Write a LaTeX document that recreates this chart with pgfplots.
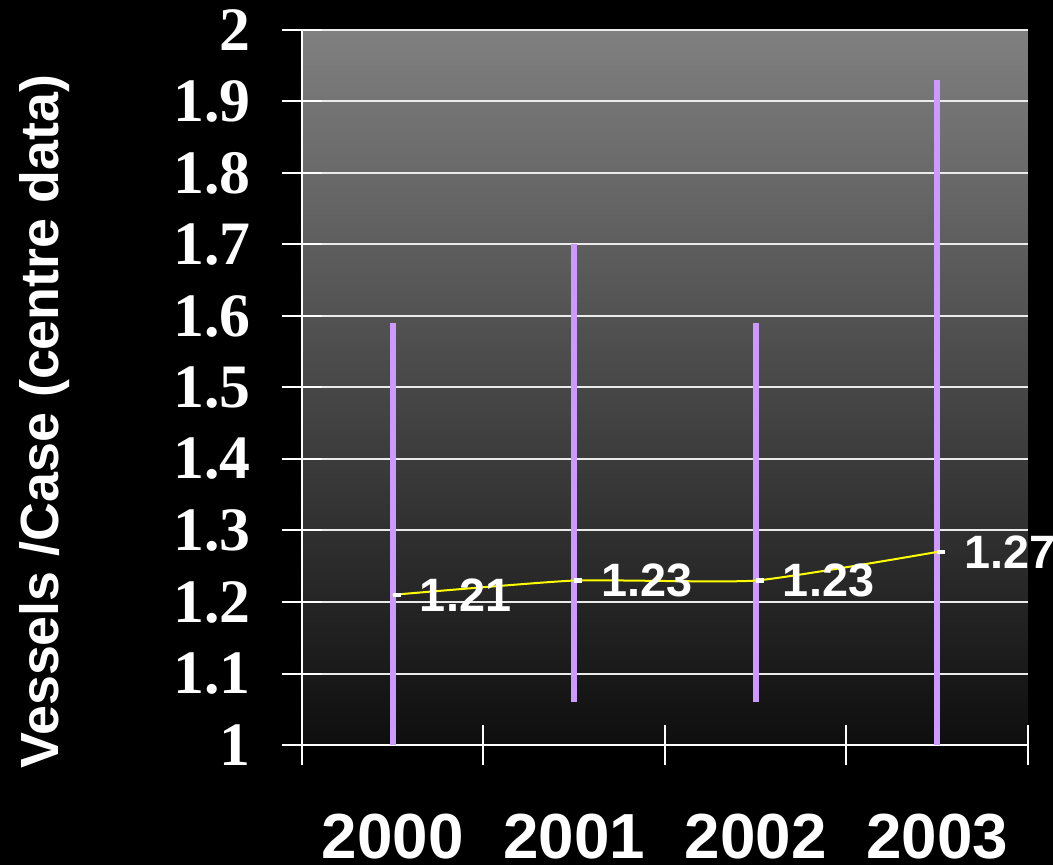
\documentclass[border=0pt]{standalone}
\usepackage{pgfplots}
\pgfplotsset{compat=1.18}
\usepackage{fontspec}
\setmainfont{Liberation Serif}
\newfontfamily\arialf{Liberation Sans}
\definecolor{bartop}{RGB}{128,128,128}
\definecolor{barbot}{RGB}{14,14,14}
\definecolor{lav}{RGB}{204,153,255}
\definecolor{yel}{RGB}{255,255,0}
\definecolor{gridc}{RGB}{235,235,235}
\begin{document}
\begin{tikzpicture}
\fill[black] (-302bp,-120bp) rectangle (751bp,745bp);
\begin{axis}[
  at={(0,0)}, anchor=south west,
  scale only axis, width=726bp, height=715bp,
  xmin=0, xmax=4, ymin=1, ymax=2,
  clip=false,
  axis background/.style={top color=bartop, bottom color=barbot},
  axis x line*=bottom, axis y line*=left,
  axis line style={white, line width=2bp, -},
  xtick={0,1,2,3,4}, xticklabels={},
  extra x ticks={0.5,1.5,2.5,3.5},
  extra x tick labels={2000,2001,2002,2003},
  extra x tick style={major tick length=0pt, grid=none,
    xticklabel style={anchor=base, inner sep=0pt, yshift=-113bp}},
  ytick={1,1.1,1.2,1.3,1.4,1.5,1.6,1.7,1.8,1.9,2},
  tick align=center, major tick length=40bp,
  tick style={white, line width=2bp},
  ymajorgrids, grid style={gridc, line width=2bp},
  x tick label style={font=\arialf\bfseries\fontsize{64}{64}\selectfont, text=white},
  y tick label style={font=\bfseries\fontsize{62}{62}\selectfont, text=white, anchor=east, inner sep=0pt, xshift=-31bp},
  /pgf/number format/assume math mode=true,
  ylabel={Vessels /Case (centre data)},
  ylabel style={font=\arialf\bfseries\fontsize{54}{54}\selectfont, text=white,
    at={(axis description cs:-0.354,0.452)}, anchor=center, rotate=0},
]
% high-low lines
\addplot[lav, line width=6.3bp, line cap=butt] coordinates {(0.5,1.00) (0.5,1.59)};
\addplot[lav, line width=6.3bp, line cap=butt] coordinates {(1.5,1.06) (1.5,1.70)};
\addplot[lav, line width=6.3bp, line cap=butt] coordinates {(2.5,1.06) (2.5,1.59)};
\addplot[lav, line width=6.3bp, line cap=butt] coordinates {(3.5,1.00) (3.5,1.93)};
% mean line
\addplot[yel, line width=2bp, smooth, tension=0.3] coordinates {(0.5,1.21) (1.5,1.23) (2.5,1.23) (3.5,1.27)};
% close marks with labels
\addplot[draw=none, mark=-, mark size=4bp,
  mark options={white, line width=4.5bp, xshift=4bp},
  nodes near coords={\pgfmathprintnumber[fixed,precision=2,fixed zerofill,assume math mode=true]{\pgfplotspointmeta}},
  every node near coord/.style={anchor=west, inner sep=0pt, xshift=21bp,
    font=\arialf\bfseries\fontsize{47}{47}\selectfont, text=white}]
  coordinates {(0.5,1.21) (1.5,1.23) (2.5,1.23) (3.5,1.27)};
\end{axis}
\pgfresetboundingbox
\path[use as bounding box] (-302bp,-120bp) rectangle (751bp,745bp);
\end{tikzpicture}
\end{document}
